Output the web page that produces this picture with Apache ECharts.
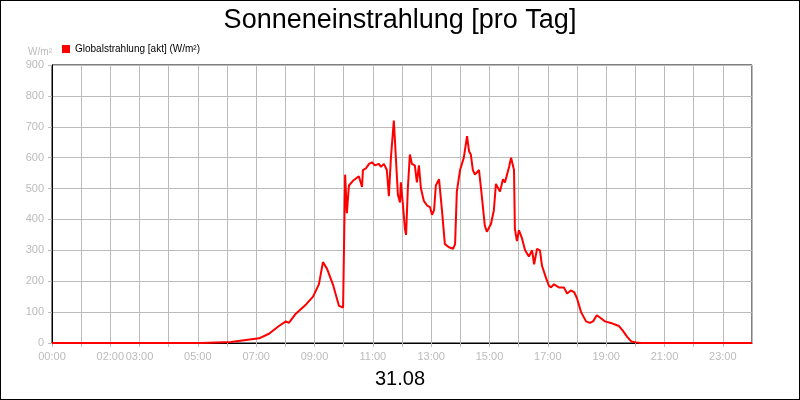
<!DOCTYPE html>
<html>
<head>
    <meta charset="utf-8">
    <script src="https://cdnjs.cloudflare.com/ajax/libs/echarts/6.0.0/echarts.min.js"></script>
</head>
<body style="margin:0">
<div id="chart" style="width: 798px; height: 398px; border: 1px solid #000;"></div>
<script type="text/javascript">
    // Data: time of day in hours, irradiance in W/m²
    var hours = [0, 5.11, 6.14, 6.65, 7.10, 7.44, 7.78, 8.02, 8.12, 8.36, 8.71, 8.95, 9.15, 9.29, 9.43, 9.63, 9.84, 9.98,
        10.05, 10.11, 10.18, 10.32, 10.52, 10.63, 10.66, 10.76, 10.87, 10.97, 11.07, 11.21, 11.28, 11.38, 11.48, 11.55,
        11.62, 11.72, 11.79, 11.86, 11.93, 11.96, 12.03, 12.10, 12.14, 12.20, 12.27, 12.34, 12.44, 12.51, 12.58, 12.65,
        12.75, 12.86, 12.96, 13.03, 13.10, 13.16, 13.27, 13.37, 13.47, 13.61, 13.75, 13.82, 13.88, 13.99, 14.12, 14.23,
        14.30, 14.36, 14.43, 14.50, 14.64, 14.71, 14.84, 14.91, 15.05, 15.15, 15.22, 15.36, 15.46, 15.53, 15.67, 15.74,
        15.84, 15.87, 15.94, 16.01, 16.11, 16.22, 16.35, 16.46, 16.53, 16.63, 16.73, 16.80, 16.94, 17.04, 17.11, 17.21,
        17.38, 17.55, 17.66, 17.79, 17.90, 18.00, 18.14, 18.31, 18.44, 18.55, 18.68, 18.82, 18.96, 19.16, 19.30, 19.44,
        19.57, 19.72, 19.86, 20.03, 20.20, 24];
    var radiation = [0, 0, 3, 10, 15, 30, 55, 70, 65, 95, 125, 150, 190, 262, 240, 190, 120, 115,
        545, 420, 510, 525, 540, 505, 560, 565, 580, 585, 575, 580, 570, 580, 560, 475,
        600, 720, 600, 480, 455, 520, 450, 370, 350, 500, 610, 580, 575, 520, 575, 500,
        460, 445, 440, 415, 430, 510, 530, 430, 320, 310, 305, 320, 490, 560, 600, 670,
        620, 610, 560, 545, 560, 500, 380, 360, 385, 430, 515, 490, 530, 520, 570, 600,
        560, 370, 330, 365, 340, 300, 280, 300, 255, 305, 300, 250, 210, 185, 180, 190,
        180, 180, 160, 170, 165, 145, 100, 70, 65, 70, 90, 80, 70, 65, 60, 55,
        40, 20, 5, 2, 0, 0];
    var shownHours = [0, 2, 3, 5, 7, 9, 11, 13, 15, 17, 19, 21, 23];

    var chart = echarts.init(document.getElementById('chart'));
    var grey = '#bbbbbb';
    chart.setOption({
        animation: false,
        backgroundColor: '#fff',
        title: [
            { text: 'Sonneneinstrahlung [pro Tag]', left: 'center', top: 1,
              textStyle: { fontFamily: 'Liberation Sans', fontSize: 27, fontWeight: 'normal', color: '#000' } },
            { text: '31.08', left: 'center', top: 363,
              textStyle: { fontFamily: 'Liberation Sans', fontSize: 20, fontWeight: 'normal', color: '#000' } }
        ],
        legend: {
            left: 56, top: 38, itemWidth: 8, itemHeight: 8, itemGap: 4,
            icon: 'rect',
            textStyle: { fontFamily: 'Liberation Sans', fontSize: 10, color: '#000' },
            data: ['Globalstrahlung [akt] (W/m²)']
        },
        grid: { left: 51, right: 47, top: 64, bottom: 56, show: true, borderColor: '#000', borderWidth: 1 },
        xAxis: {
            type: 'value', min: 0, max: 24, interval: 1,
            axisLine: { lineStyle: { color: '#000' } },
            axisTick: { show: true, length: 4, lineStyle: { color: grey } },
            splitLine: { lineStyle: { color: grey } },
            axisLabel: {
                color: grey, fontFamily: 'Liberation Sans', fontSize: 11, showMaxLabel: false,
                formatter: function (v) {
                    return shownHours.indexOf(v) >= 0 ? (v < 10 ? '0' : '') + v + ':00' : '';
                }
            }
        },
        yAxis: {
            type: 'value', min: 0, max: 900, interval: 100,
            name: 'W/m²', nameGap: 8, nameTextStyle: { color: grey, fontSize: 10, align: 'right' },
            axisLine: { show: true, lineStyle: { color: '#000' } },
            axisTick: { show: true, length: 4, lineStyle: { color: grey } },
            splitLine: { lineStyle: { color: grey } },
            axisLabel: { color: grey, fontFamily: 'Liberation Sans', fontSize: 11 }
        },
        series: [{
            name: 'Globalstrahlung [akt] (W/m²)',
            type: 'line',
            showSymbol: false,
            color: '#ff0000',
            lineStyle: { width: 2 },
            data: hours.map(function (h, i) { return [h, radiation[i]]; })
        }]
    });
</script>
</body>
</html>
